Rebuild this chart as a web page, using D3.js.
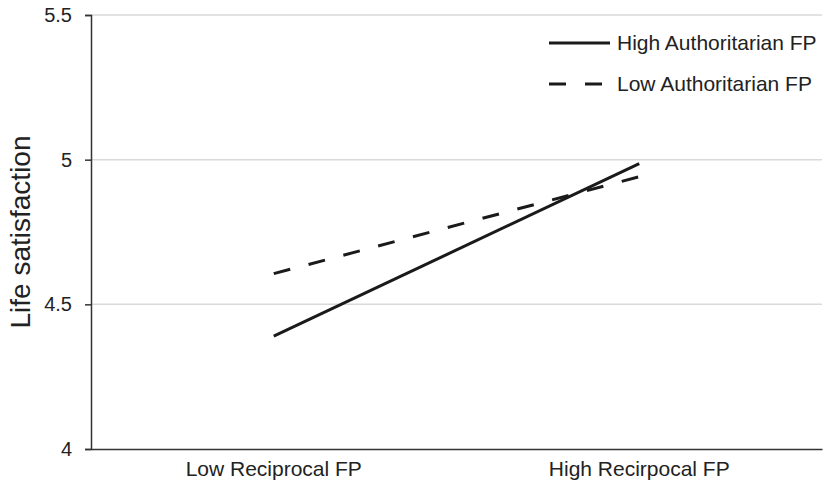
<!DOCTYPE html>
<html>
<head>
<meta charset="utf-8">
<script src="https://cdn.jsdelivr.net/npm/d3@7"></script>
<style>
  body { margin: 0; background: #fff; }
  svg { display: block; font-family: "Liberation Sans", Arial, sans-serif; }
</style>
</head>
<body>
<svg id="chart" width="825" height="488"></svg>
<script>
// data
const categories = ['Low Reciprocal FP', 'High Recirpocal FP'];
const highAuthoritarian = [4.39, 4.986];
const lowAuthoritarian = [4.606, 4.941];
const yTicks = [4, 4.5, 5, 5.5];
const seriesNames = ['High Authoritarian FP', 'Low Authoritarian FP'];

const width = 825, height = 488;
const margin = { top: 15, right: 3, bottom: 39, left: 91 };
const innerW = width - margin.left - margin.right;
const innerH = height - margin.top - margin.bottom;

const svg = d3.select('#chart');
const g = svg.append('g')
    .attr('transform', `translate(${margin.left},${margin.top})`);

const x = d3.scaleBand()
    .domain(categories)
    .range([0, innerW])
    .padding(0);

const y = d3.scaleLinear()
    .domain([4, 5.5])
    .range([innerH, 0]);

// gridlines
g.append('g')
    .selectAll('line')
    .data(yTicks.filter(d => d > 4))
    .join('line')
        .attr('x1', 0)
        .attr('x2', innerW)
        .attr('y1', d => y(d))
        .attr('y2', d => y(d))
        .attr('stroke', '#d9d9d9')
        .attr('stroke-width', 1.5);

// y axis
const yAxis = g.append('g')
    .call(d3.axisLeft(y).tickValues(yTicks).tickSize(6).tickPadding(13)
        .tickFormat(d => d3.format('')(d)));
yAxis.select('.domain').attr('stroke', '#333').attr('stroke-width', 1.5);
yAxis.selectAll('.tick line').attr('stroke', '#333').attr('stroke-width', 1.5);
yAxis.selectAll('.tick text')
    .attr('fill', '#222')
    .style('font-size', '20px')
    .style('font-family', '"Liberation Sans", Arial, sans-serif');

// x axis
const xAxis = g.append('g')
    .attr('transform', `translate(0,${innerH})`)
    .call(d3.axisBottom(x).tickSize(0).tickPadding(12));
xAxis.select('.domain').attr('stroke', '#333').attr('stroke-width', 1.5);
xAxis.selectAll('.tick text')
    .attr('fill', '#222')
    .style('font-size', '21px')
    .style('font-family', '"Liberation Sans", Arial, sans-serif');

// y title
svg.append('text')
    .attr('transform', `translate(30,${margin.top + innerH / 2}) rotate(-90)`)
    .attr('text-anchor', 'middle')
    .attr('fill', '#222')
    .style('font-size', '28px')
    .text('Life satisfaction');

// lines
const line = d3.line()
    .x((d, i) => x(categories[i]) + x.bandwidth() / 2)
    .y(d => y(d));

const series = [
    { name: seriesNames[0], values: highAuthoritarian, dash: null },
    { name: seriesNames[1], values: lowAuthoritarian, dash: '17,19' }
];

g.selectAll('.series')
    .data(series)
    .join('path')
        .attr('class', 'series')
        .attr('d', d => line(d.values))
        .attr('fill', 'none')
        .attr('stroke', '#1a1a1a')
        .attr('stroke-width', 3)
        .attr('stroke-dasharray', d => d.dash);

// legend
const legend = svg.append('g')
    .attr('transform', 'translate(549,43)');

const item = legend.selectAll('.item')
    .data(series)
    .join('g')
        .attr('class', 'item')
        .attr('transform', (d, i) => `translate(0,${i * 41})`);

item.append('line')
    .attr('x1', 0)
    .attr('x2', 61)
    .attr('stroke', '#1a1a1a')
    .attr('stroke-width', 3)
    .attr('stroke-dasharray', d => d.dash);

item.append('text')
    .attr('x', 68)
    .attr('dy', '0.35em')
    .attr('fill', '#222')
    .style('font-size', '21px')
    .text(d => d.name);
</script>
</body>
</html>
